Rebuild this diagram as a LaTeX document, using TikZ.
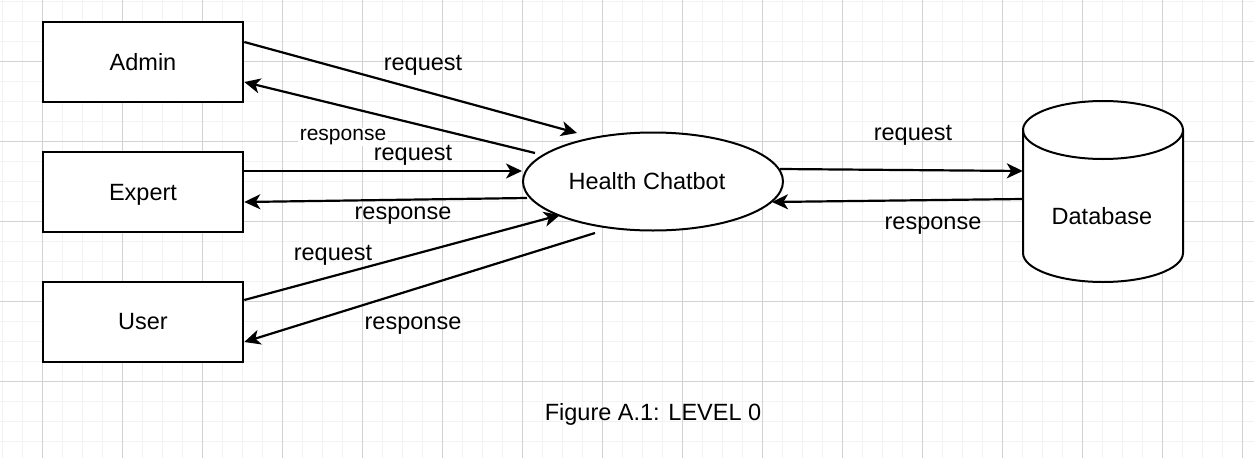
\documentclass[tikz,border=0pt]{standalone}
\usepackage{fontspec}
\setmainfont{Liberation Sans}
\usetikzlibrary{shapes.geometric,arrows.meta,calc}
\definecolor{gminor}{RGB}{242,242,242}
\definecolor{gmajor}{RGB}{210,210,210}
\tikzset{
  entity/.style={draw=black,line width=2.6pt,fill=white,minimum width=200pt,minimum height=80pt,inner sep=0pt,font=\fontsize{23.5}{28}\selectfont},
  proc/.style={ellipse,draw=black,line width=2pt,fill=white,minimum width=260pt,minimum height=98pt,inner sep=0pt,font=\fontsize{23.5}{28}\selectfont},
  arr/.style={line width=2.2pt,-{Stealth[length=16pt,width=15pt,inset=4.5pt]}},
  lbl/.style={font=\fontsize{23.5}{28}\selectfont,inner sep=0pt},
  lblsmall/.style={font=\fontsize{21}{25}\selectfont,fill=white,inner sep=1.5pt}
}
\begin{document}
\begin{tikzpicture}[x=1pt,y=-1pt]
\fill[white] (0,0) rectangle (1254,458);
\useasboundingbox (0,0) rectangle (1254,458);
% grid
\foreach \i in {0,...,62} {\draw[gminor,line width=1pt] (2.7+20*\i,0) -- (2.7+20*\i,458);}
\foreach \j in {0,...,22} {\draw[gminor,line width=1pt] (0,1+20*\j) -- (1254,1+20*\j);}
\foreach \i in {0,...,15} {\draw[gmajor,line width=1pt] (42.7+80*\i,0) -- (42.7+80*\i,458);}
\foreach \j in {0,...,5} {\draw[gmajor,line width=1pt] (0,61+80*\j) -- (1254,61+80*\j);}
% entities
\node[entity] (admin) at (143,62) {Admin};
\node[entity,text depth=0pt] (expert) at (143,192) {Expert};
\node[entity] (user) at (143,322) {User};
\node[proc] (bot) at (653,181.5) {Health Chatbot\kern12pt};
% database cylinder
\fill[white] (1023,130) -- (1023,253) arc[start angle=180,end angle=0,x radius=80,y radius=29] -- (1183,130) arc[start angle=0,end angle=-180,x radius=80,y radius=29] -- cycle;
\draw[line width=2pt] (1103,130) ellipse[x radius=80,y radius=29];
\draw[line width=2pt] (1023,130) -- (1023,253) arc[start angle=180,end angle=0,x radius=80,y radius=29] -- (1183,130);
\node[minimum width=160pt,minimum height=181pt,inner sep=0pt] (db) at (1103,191.5) {};
\node[lbl] (dblabel) at (1102,216) {Database};
% connectors
\draw[arr] ($(admin.east)+(0,-20)$) -- ($(bot.center)+(-76,-48.5)$);
\draw[arr] ($(bot.center)+(-118,-28.5)$) -- ($(admin.east)+(0,20)$);
\draw[arr] ($(expert.east)+(0,-21)$) -- ($(bot.center)+(-131,-10.5)$);
\draw[arr] ($(bot.center)+(-126,16.5)$) -- ($(expert.east)+(0,10)$);
\draw[arr] ($(user.east)+(0,-22)$) -- ($(bot.center)+(-93,33.5)$);
\draw[arr] ($(bot.center)+(-58,51.5)$) -- ($(user.east)+(0,20)$);
\draw[arr] ($(bot.center)+(127,-12.5)$) -- ($(db.west)+(0,-20.5)$);
\draw[arr] ($(db.west)+(0,7.5)$) -- ($(bot.center)+(119,20.5)$);
% labels
\node[lbl] (l1) at (423,65) {request};
\node[lblsmall] (l2) at (343,137) {response};
\node[lbl] (l3) at (413,155) {request};
\node[lbl] (l4) at (403,215.5) {response};
\node[lbl] (l5) at (333,255) {request};
\node[lbl] (l6) at (413,325.5) {response};
\node[lbl] (l7) at (913,135) {request};
\node[lbl] (l8) at (933,225.5) {response};
\node[lbl] (cap) at (653,414) {Figure A.1: LEVEL 0};
\end{tikzpicture}
\end{document}
